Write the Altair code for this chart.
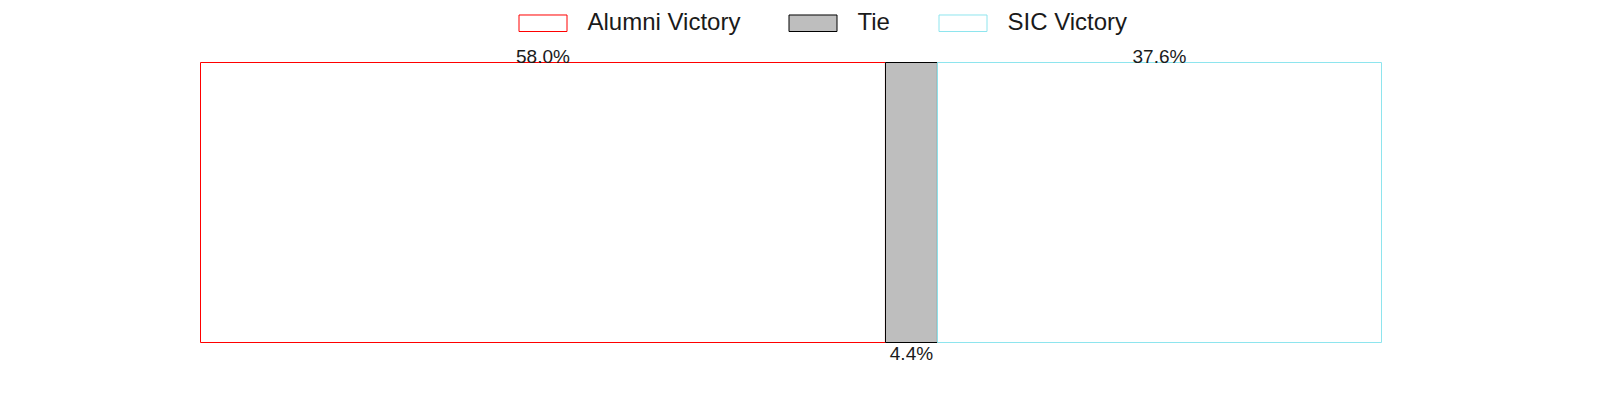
import altair as alt
import pandas as pd

results = ["Alumni Victory", "Tie", "SIC Victory"]
percent = [58.0, 4.4, 37.6]
labels = ["58.0%", "4.4%", "37.6%"]
label_side = ["top", "bottom", "top"]
stack_order = [1, 2, 3]

fill_colors = ["#ffffff", "#bebebe", "#ffffff"]
stroke_colors = ["#ff0000", "#000000", "#8ee5ee"]

df = pd.DataFrame({
    "result": results,
    "pct": percent,
    "label": labels,
    "side": label_side,
    "ord": stack_order,
    "row": ["all"] * 3,
})

rect_path = "M-1,-0.344L1,-0.344L1,0.344L-1,0.344Z"

base = alt.Chart(df).transform_stack(
    stack="pct", groupby=["row"], as_=["x0", "x1"],
    sort=[alt.SortField("ord", order="ascending")]
).transform_calculate(mid="(datum.x0 + datum.x1) / 2")

xscale = alt.Scale(domain=[0, 100], nice=False, zero=True)
yscale = alt.Scale(paddingInner=0, paddingOuter=0)

bars = base.mark_bar(strokeWidth=1, opacity=1).encode(
    x=alt.X("x0:Q", scale=xscale, axis=None),
    x2="x1:Q",
    y=alt.Y("row:N", scale=yscale, axis=None),
    fill=alt.Fill("result:N", sort=results,
                  scale=alt.Scale(domain=results, range=fill_colors),
                  legend=alt.Legend(title=None)),
    stroke=alt.Stroke("result:N", sort=results,
                      scale=alt.Scale(domain=results, range=stroke_colors),
                      legend=alt.Legend(title=None)),
)

top_text = base.transform_filter(alt.datum.side == "top").mark_text(
    font="Liberation Sans", fontSize=19, color="#1a1a1a",
    baseline="alphabetic", align="center", dy=0
).encode(
    x=alt.X("mid:Q", scale=xscale, axis=None),
    y=alt.Y("row:N", scale=yscale, axis=None, bandPosition=0),
    text="label:N",
)

bottom_text = base.transform_filter(alt.datum.side == "bottom").mark_text(
    font="Liberation Sans", fontSize=19, color="#1a1a1a",
    baseline="alphabetic", align="center", dy=17
).encode(
    x=alt.X("mid:Q", scale=xscale, axis=None),
    y=alt.Y("row:N", scale=yscale, axis=None, bandPosition=1),
    text="label:N",
)

chart = alt.layer(bars, top_text, bottom_text).properties(
    width=1181,
    height=280,
    autosize=alt.AutoSizeParams(type="none"),
    padding={"left": 192.5, "top": 54.5, "right": 210.5, "bottom": 49.5},
).configure_view(strokeWidth=0).configure_legend(
    orient="none",
    legendX=318,
    legendY=-64,
    direction="horizontal",
    symbolType=rect_path,
    symbolSize=2304,
    symbolStrokeWidth=1,
    symbolOpacity=1,
    labelFont="Liberation Sans",
    labelFontSize=24,
    labelColor="#1a1a1a",
    labelOffset=20,
    labelLimit=400,
    columnPadding=46,
    padding=0,
)

chart.save("out.html", embed_options={"renderer": "svg", "actions": False})
